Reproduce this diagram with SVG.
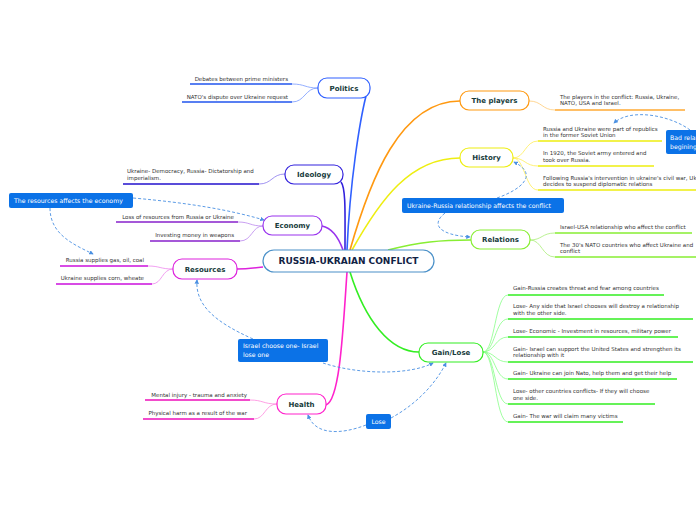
<svg xmlns="http://www.w3.org/2000/svg" width="696" height="520" viewBox="0 0 696 520">
<defs>
<style>
.node rect{fill:#fff;stroke-width:1.2}
.nt{font-family:"DejaVu Sans",sans-serif;font-weight:bold;font-size:7px;fill:#173b3b;text-anchor:middle}
.st{font-family:"DejaVu Sans",sans-serif;font-size:5.5px;fill:#333}
.ct{font-family:"DejaVu Sans",sans-serif;font-size:6.2px;fill:#fff}
.cb{fill:#0b72e7}
.main{fill:none;stroke-width:1.6}
.sub{fill:none;stroke-width:0.8}
.ul{fill:none;stroke-width:1.5}
.dash{fill:none;stroke:#4a90e2;stroke-width:0.9;stroke-dasharray:3 2;marker-end:url(#arr)}
</style>
<marker id="arr" viewBox="0 0 6 6" refX="5" refY="3" markerWidth="5" markerHeight="5" orient="auto">
<path d="M0,0 L6,3 L0,6 z" fill="#4a90e2"/>
</marker>
</defs>
<rect width="696" height="520" fill="#fff"/>

<g id="connectors">
<path class="main" stroke="#3060ff" d="M347,250 C350,180 360,120 366,96"/>
<path class="main" stroke="#3322dd" d="M345,250 C345,215 346,188 341,182"/>
<path class="main" stroke="#9933ee" d="M343,250 C338,236 332,228 322,226"/>
<path class="main" stroke="#dd22dd" d="M263,267 C255,268 245,269 237,269"/>
<path class="main" stroke="#ff22cc" d="M347,272 C343,330 340,400 326,405"/>
<path class="main" stroke="#33ee22" d="M350,272 C365,320 390,352 419,352"/>
<path class="main" stroke="#ff9911" d="M350,250 C370,180 400,101 460,101"/>
<path class="main" stroke="#eeee11" d="M352,250 C380,200 410,158 460,158"/>
<path class="main" stroke="#88ee33" d="M388,250 C420,242 440,240 471,240"/>

<path class="sub" stroke="#7799ff" d="M318,88 C305,88 305,84 292,84"/>
<path class="sub" stroke="#7799ff" d="M318,88 C305,88 305,102 292,102"/>
<path class="sub" stroke="#8877ee" d="M285,174 C272,174 272,184 259,184"/>
<path class="sub" stroke="#bb88ee" d="M263,226 C250,226 250,222 238,222"/>
<path class="sub" stroke="#bb88ee" d="M263,226 C252,226 252,241 240,241"/>
<path class="sub" stroke="#ee88ee" d="M173,269 C160,269 160,266 148,266"/>
<path class="sub" stroke="#ee88ee" d="M173,269 C162,269 162,284 152,284"/>
<path class="sub" stroke="#ff88dd" d="M277,404 C263,404 263,400 250,400"/>
<path class="sub" stroke="#ff88dd" d="M277,404 C265,404 265,419 254,419"/>
<path class="sub" stroke="#ffcc77" d="M529,101 C542,101 542,110 555,110"/>
<path class="sub" stroke="#ffee55" d="M513,158 C525,158 525,141 538,141"/>
<path class="sub" stroke="#ffee55" d="M513,158 C525,158 525,166 538,166"/>
<path class="sub" stroke="#ffee55" d="M513,158 C525,158 525,190 538,190"/>
<path class="sub" stroke="#aaee77" d="M530,240 C542,240 542,233 555,233"/>
<path class="sub" stroke="#aaee77" d="M530,240 C542,240 542,257 555,257"/>
<path class="sub" stroke="#88ff88" d="M483,352 C495,352 495,295 508,295"/>
<path class="sub" stroke="#88ff88" d="M483,352 C495,352 495,319 508,319"/>
<path class="sub" stroke="#88ff88" d="M483,352 C495,352 495,337 508,337"/>
<path class="sub" stroke="#88ff88" d="M483,352 C495,352 495,362 508,362"/>
<path class="sub" stroke="#88ff88" d="M483,352 C495,352 495,379 508,379"/>
<path class="sub" stroke="#88ff88" d="M483,352 C495,352 495,404 508,404"/>
<path class="sub" stroke="#88ff88" d="M483,352 C495,352 495,422 508,422"/>

<path class="dash" d="M133,198 C190,203 230,210 264,220"/>
<path class="dash" d="M50,208 C50,235 75,245 93,254"/>
<path class="dash" d="M497,198 C520,190 540,175 514,162"/>
<path class="dash" d="M445,213 C430,225 440,235 470,237"/>
<path class="dash" d="M690,130 C670,115 630,108 614,123"/>
<path class="dash" d="M253,339 C215,322 195,305 197,280"/>
<path class="dash" d="M323,363 C360,375 410,375 433,363"/>
<path class="dash" d="M391,418 C415,405 435,385 446,363"/>
<path class="dash" d="M366,425 C340,435 315,435 308,415"/>
</g>

<g id="central" class="node">
<rect x="263" y="250" width="171" height="22" rx="11" stroke="#4a90c8" fill="#fff"/>
<text class="nt" x="348.5" y="264.2" style="font-size:9px;fill:#112244">RUSSIA-UKRAIAN CONFLICT</text>
</g>

<g id="politics" class="node">
<rect x="318" y="78" width="52" height="20" rx="9" stroke="#3060ff"/>
<text class="nt" x="344" y="90.5">Politics</text>
<path class="ul" stroke="#2255ee" d="M190,84 H292 M182,102 H292"/>
<text class="st" x="288" y="81" text-anchor="end">Debates between prime ministers</text>
<text class="st" x="288" y="99" text-anchor="end">NATO's dispute over Ukraine request</text>
</g>

<g id="ideology" class="node">
<rect x="285" y="165" width="58" height="19" rx="9" stroke="#3322dd"/>
<text class="nt" x="314" y="177">Ideology</text>
<path class="ul" stroke="#2211cc" d="M123,184 H259"/>
<text class="st" x="127" y="173">Ukraine- Democracy, Russia- Dictatorship and</text>
<text class="st" x="127" y="180">imperialism.</text>
</g>

<g id="economy" class="node">
<rect x="263" y="216" width="59" height="19" rx="9" stroke="#9933ee"/>
<text class="nt" x="292.5" y="228">Economy</text>
<path class="ul" stroke="#8822cc" d="M116,222 H238 M150,241 H240"/>
<text class="st" x="234" y="219" text-anchor="end">Loss of resources from Russia or Ukraine</text>
<text class="st" x="234" y="237" text-anchor="end">Investing money in weapons</text>
</g>

<g id="resources" class="node">
<rect x="173" y="259" width="64" height="20" rx="9" stroke="#dd22dd"/>
<text class="nt" x="205" y="271.5">Resources</text>
<path class="ul" stroke="#cc11dd" d="M60,266 H148 M56,284 H152"/>
<text class="st" x="144" y="262" text-anchor="end">Russia supplies gas, oil, coal</text>
<text class="st" x="144" y="280" text-anchor="end">Ukraine supplies corn, wheate</text>
</g>

<g id="health" class="node">
<rect x="277" y="394" width="49" height="20" rx="9" stroke="#ff22cc"/>
<text class="nt" x="301.5" y="406.5">Health</text>
<path class="ul" stroke="#ee11bb" d="M145,400 H250 M143,419 H254"/>
<text class="st" x="247" y="397" text-anchor="end">Mental injury - trauma and anxiety</text>
<text class="st" x="247" y="415" text-anchor="end">Physical harm as a result of the war</text>
</g>

<g id="gainlose" class="node">
<rect x="419" y="343" width="64" height="19" rx="9" stroke="#33ee22"/>
<text class="nt" x="451" y="355">Gain/Lose</text>
<path class="ul" stroke="#33ee22" d="M508,295 H664 M508,319 H693 M508,337 H678 M508,362 H693 M508,379 H677 M508,404 H655 M508,422 H623"/>
<text class="st" x="513" y="290">Gain-Russia creates threat and fear among countries</text>
<text class="st" x="513" y="308">Lose- Any side that Israel chooses will destroy a relationship</text>
<text class="st" x="513" y="315">with the other side.</text>
<text class="st" x="513" y="333">Lose- Economic - Investment in resources, military power</text>
<text class="st" x="513" y="351">Gain- Israel can support the United States and strengthen its</text>
<text class="st" x="513" y="357">relationship with it</text>
<text class="st" x="513" y="375">Gain- Ukraine can join Nato, help them and get their help</text>
<text class="st" x="513" y="393">Lose- other countries conflicts- If they will choose</text>
<text class="st" x="513" y="400">one side.</text>
<text class="st" x="513" y="418">Gain- The war will claim many victims</text>
</g>

<g id="players" class="node">
<rect x="460" y="91" width="69" height="19" rx="9" stroke="#ff9911"/>
<text class="nt" x="494.5" y="103">The players</text>
<path class="ul" stroke="#ffaa33" d="M555,110 H685"/>
<text class="st" x="560" y="99">The players in the conflict: Russia, Ukraine,</text>
<text class="st" x="560" y="105">NATO, USA and Israel.</text>
</g>

<g id="history" class="node">
<rect x="460" y="148" width="53" height="19" rx="9" stroke="#eeee11"/>
<text class="nt" x="486.5" y="160">History</text>
<path class="ul" stroke="#eeee11" d="M538,141 H662 M538,166 H654 M538,190 H696"/>
<text class="st" x="543" y="131">Russia and Ukraine were part of republics</text>
<text class="st" x="543" y="137">in the former Soviet Union</text>
<text class="st" x="543" y="155">In 1920, the Soviet army entered and</text>
<text class="st" x="543" y="162">took over Russia.</text>
<text class="st" x="543" y="180">Following Russia's intervention in ukraine's civil war, Ukraine</text>
<text class="st" x="543" y="186">decides to suspend diplomatic relations</text>
</g>

<g id="relations" class="node">
<rect x="471" y="230" width="59" height="19" rx="9" stroke="#88ee33"/>
<text class="nt" x="500.5" y="242">Relations</text>
<path class="ul" stroke="#88ee33" d="M555,233 H692 M555,257 H696"/>
<text class="st" x="560" y="229">Israel-USA relationship who affect the conflict</text>
<text class="st" x="560" y="247">The 30's NATO countries who affect Ukraine and</text>
<text class="st" x="560" y="253">conflict</text>
</g>

<g id="callout-resources">
<rect class="cb" x="9" y="193" width="124" height="15" rx="2"/>
<text class="ct" x="14" y="203">The resources affects the economy</text>
</g>
<g id="callout-relationship">
<rect class="cb" x="402" y="198" width="162" height="15" rx="2"/>
<text class="ct" x="407" y="208">Ukraine-Russia relationship affects the conflict</text>
</g>
<g id="callout-bad">
<rect class="cb" x="666" y="130" width="60" height="24" rx="2"/>
<text class="ct" x="670" y="140">Bad relations from the</text>
<text class="ct" x="670" y="149">begining</text>
</g>
<g id="callout-israel">
<rect class="cb" x="238" y="339" width="90" height="23" rx="2"/>
<text class="ct" x="243" y="348">Israel choose one- Israel</text>
<text class="ct" x="243" y="357">lose one</text>
</g>
<g id="callout-lose">
<rect class="cb" x="366" y="414" width="25" height="15" rx="2"/>
<text class="ct" x="378.5" y="424" text-anchor="middle">Lose</text>
</g>
</svg>
